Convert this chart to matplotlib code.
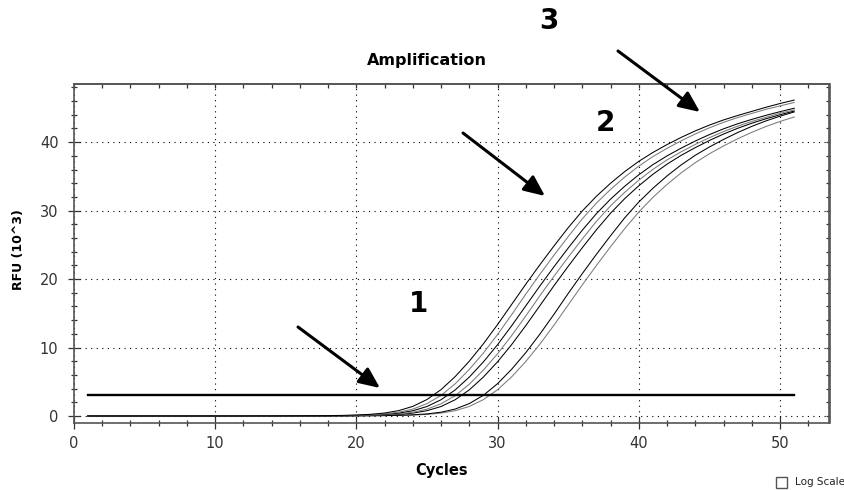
import matplotlib
matplotlib.use("Agg")
import matplotlib.pyplot as plt
from matplotlib.patches import Rectangle


# qPCR run: RFU (x1000) per cycle for each well
cycles = list(range(1, 52))

rfu_a = [0, 0, 0, 0, 0, 0, 0, 0, 0, 0, 0,
         0.0, 0.01, 0.01, 0.02, 0.03, 0.04, 0.05, 0.08, 0.14, 0.24,
         0.43, 0.78, 1.4, 2.4, 3.85, 5.75, 8.0, 10.55, 13.35, 16.3,
         19.25, 22.1, 24.85, 27.5, 29.95, 32.1, 34.0, 35.7, 37.2, 38.5,
         39.65, 40.7, 41.65, 42.5, 43.25, 43.9, 44.5, 45.1, 45.65, 46.15]
rfu_b = [0, 0, 0, 0, 0, 0, 0, 0, 0, 0, 0,
         0.0, 0.0, 0.01, 0.01, 0.02, 0.03, 0.04, 0.06, 0.10, 0.17,
         0.30, 0.55, 1.0, 1.8, 3.0, 4.7, 6.8, 9.2, 11.9, 14.8,
         17.8, 20.7, 23.5, 26.2, 28.8, 31.1, 33.1, 34.9, 36.5, 37.9,
         39.1, 40.2, 41.2, 42.1, 42.9, 43.6, 44.2, 44.8, 45.3, 45.8]
rfu_c = [0, 0, 0, 0, 0, 0, 0, 0, 0, 0, 0,
         0.0, 0.0, 0.0, 0.01, 0.01, 0.02, 0.03, 0.05, 0.08, 0.13,
         0.23, 0.42, 0.76, 1.38, 2.37, 3.80, 5.68, 7.90, 10.41, 13.18,
         16.09, 19.0, 21.81, 24.53, 27.14, 29.56, 31.68, 33.56, 35.24, 36.72,
         38.0, 39.13, 40.17, 41.11, 41.95, 42.69, 43.33, 43.92, 44.46, 44.96]
rfu_d = [0, 0, 0, 0, 0, 0, 0, 0, 0, 0, 0, 0,
         0.0, 0.0, 0.01, 0.01, 0.02, 0.03, 0.04, 0.06, 0.10,
         0.17, 0.30, 0.54, 0.99, 1.78, 2.96, 4.64, 6.71, 9.08, 11.75,
         14.61, 17.57, 20.43, 23.19, 25.86, 28.43, 30.70, 32.67, 34.45, 36.03,
         37.41, 38.59, 39.68, 40.66, 41.55, 42.34, 43.03, 43.63, 44.22, 44.71]
rfu_e = [0, 0, 0, 0, 0, 0, 0, 0, 0, 0, 0, 0, 0,
         0.0, 0.0, 0.01, 0.01, 0.02, 0.03, 0.05, 0.08,
         0.13, 0.23, 0.42, 0.77, 1.38, 2.37, 3.81, 5.69, 7.91, 10.43,
         13.20, 16.12, 19.04, 21.86, 24.58, 27.20, 29.62, 31.75, 33.63, 35.31,
         36.79, 38.08, 39.21, 40.25, 41.19, 42.03, 42.77, 43.42, 44.01, 44.55]
rfu_f = [0, 0, 0, 0, 0, 0, 0, 0, 0, 0, 0, 0, 0, 0,
         0.0, 0.0, 0.01, 0.01, 0.02, 0.03, 0.04,
         0.06, 0.10, 0.17, 0.30, 0.55, 1.01, 1.81, 3.02, 4.72, 6.83,
         9.25, 11.96, 14.87, 17.89, 20.80, 23.62, 26.33, 28.94, 31.26, 33.27,
         35.07, 36.68, 38.09, 39.30, 40.40, 41.41, 42.31, 43.11, 43.80, 44.42]
rfu_g = [0, 0, 0, 0, 0, 0, 0, 0, 0, 0, 0, 0, 0, 0, 0,
         0.0, 0.0, 0.01, 0.01, 0.02, 0.03,
         0.05, 0.08, 0.13, 0.23, 0.42, 0.77, 1.39, 2.39, 3.83, 5.72,
         7.96, 10.50, 13.28, 16.22, 19.15, 21.99, 24.73, 27.36, 29.80, 31.94,
         33.83, 35.52, 37.01, 38.31, 39.45, 40.50, 41.44, 42.29, 43.03, 43.68]

wells = [rfu_g, rfu_f, rfu_e, rfu_d, rfu_c, rfu_b, rfu_a]
well_colors = ["#7a7a7a", "black", "black", "#7a7a7a", "black", "#7a7a7a", "black"]

threshold = 3.0
threshold_span = [1, 51]

x_major = [0, 10, 20, 30, 40, 50]
y_major = [0, 10, 20, 30, 40]


fig = plt.figure(figsize=(8.45, 4.9), dpi=100)
ax = fig.add_axes([73.75 / 845, 1 - 423.3 / 490, 755.75 / 845, 339.3 / 490])

for rfu, col in zip(wells, well_colors):
    ax.plot(cycles, rfu, color=col, lw=0.75)

ax.plot(threshold_span, [threshold, threshold], color="black", lw=1.7)

ax.set_xlim(0, 53.5)
ax.set_ylim(-1.07, 48.5)
ax.set_xticks(x_major)
ax.set_yticks(y_major)
ax.set_xticks(range(0, 54, 2), minor=True)
ax.set_yticks(range(0, 49, 2), minor=True)

ax.grid(True, which="major", color="black", linestyle=(0, (1, 4)), lw=0.8)

ax.tick_params(which="major", direction="inout", length=8, width=0.9,
               colors="#333333", labelsize=10.5)
ax.tick_params(which="minor", direction="inout", length=5, width=0.9,
               colors="#333333")
ax.tick_params(axis="x", pad=5)
ax.tick_params(axis="y", pad=7)

# top / right ticks only point inwards
top = ax.secondary_xaxis("top")
top.set_xticks(x_major)
top.set_xticks(range(0, 54, 2), minor=True)
top.tick_params(which="both", direction="in", length=3, width=0.9,
                colors="#333333", labeltop=False)
right = ax.secondary_yaxis("right")
right.set_yticks(y_major)
right.set_yticks(range(0, 49, 2), minor=True)
right.tick_params(which="both", direction="in", length=3, width=0.9,
                  colors="#333333", labelright=False)

for sp in list(ax.spines.values()) + [top.spines["top"], right.spines["right"]]:
    sp.set_color("#555555")
    sp.set_linewidth(1.2)

fig.text(427 / 845, 1 - 60 / 490, "Amplification", ha="center", va="center",
         fontsize=11.5, fontweight="bold")
fig.text(442 / 845, 1 - 470 / 490, "Cycles", ha="center", va="center",
         fontsize=10.5, fontweight="bold")
fig.text(19 / 845, 1 - 250 / 490, "RFU (10^3)", ha="center", va="center",
         rotation=90, fontsize=9, fontweight="bold")

# numbered callouts with arrows
for label, (lx, ly) in zip(["1", "2", "3"], [(419, 304), (605, 123), (549, 21)]):
    fig.text(lx / 845, 1 - ly / 490, label, ha="center", va="center",
             fontsize=20, fontweight="bold")

arrows = [((298, 327), (380, 388)), ((463, 133), (545, 196)), ((618, 51), (700, 112))]
for (x0, y0), (x1, y1) in arrows:
    ax.annotate("", xy=(x1, 490 - y1), xytext=(x0, 490 - y0),
                xycoords="figure pixels", textcoords="figure pixels",
                arrowprops=dict(arrowstyle="-|>,head_length=0.9,head_width=0.4",
                                mutation_scale=14, lw=2.2, color="black",
                                shrinkA=0, shrinkB=0),
                annotation_clip=False)

# "Log Scale" checkbox under the plot
fig.patches.append(Rectangle((776, 490 - 488), 11, 11, transform=None,
                             facecolor="white", edgecolor="#555555", lw=1))
fig.text(795 / 845, 1 - 482 / 490, "Log Scale", ha="left", va="center",
         fontsize=7.5, color="#222222")

fig.savefig("out.png", dpi=100)
